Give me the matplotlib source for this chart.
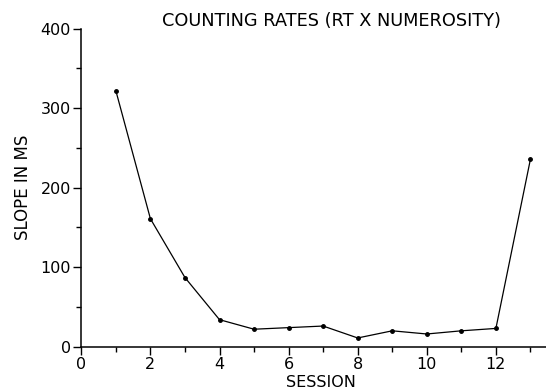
import matplotlib
matplotlib.use('Agg')
import matplotlib.pyplot as plt
from matplotlib.ticker import MultipleLocator

# valores
sessions = [1, 2, 3, 4, 5, 6, 7, 8, 9, 10, 11, 12, 13]
slope_ms = [322, 161, 87, 34, 22, 24, 26, 11, 20, 16, 20, 23, 236]
xticks = [0, 2, 4, 6, 8, 10, 12]
yticks = [0, 100, 200, 300, 400]

plt.rcParams['font.family'] = ['DejaVu Sans']

fig = plt.figure(figsize=(5.46, 3.90), dpi=100)
ax = fig.add_axes([0.1489, 0.111, 0.8511, 0.8154])

ax.plot(sessions, slope_ms, color='black', lw=0.9, marker='o', markersize=2.5)

ax.set_xlim(0, 13.45)
ax.set_ylim(0, 400)
ax.set_xticks(xticks)
ax.set_yticks(yticks)
ax.xaxis.set_minor_locator(MultipleLocator(1))
ax.yaxis.set_minor_locator(MultipleLocator(50))
ax.tick_params(which='major', direction='out', length=5.5, width=1, labelsize=11.5, pad=2)
ax.tick_params(which='minor', direction='out', length=3.5, width=1)

for s in ['top', 'right']:
    ax.spines[s].set_visible(False)
for s in ['left', 'bottom']:
    ax.spines[s].set_linewidth(1.1)

#rotulos e titulo
ax.set_ylabel('SLOPE IN MS', fontsize=12, labelpad=6)
fig.text(0.588, 0.0205, 'SESSION', fontsize=11.5, ha='center', va='center')
fig.text(0.608, 0.945, 'COUNTING RATES (RT X NUMEROSITY)', fontsize=12.8, ha='center', va='center')

fig.savefig('out.png', dpi=100)
